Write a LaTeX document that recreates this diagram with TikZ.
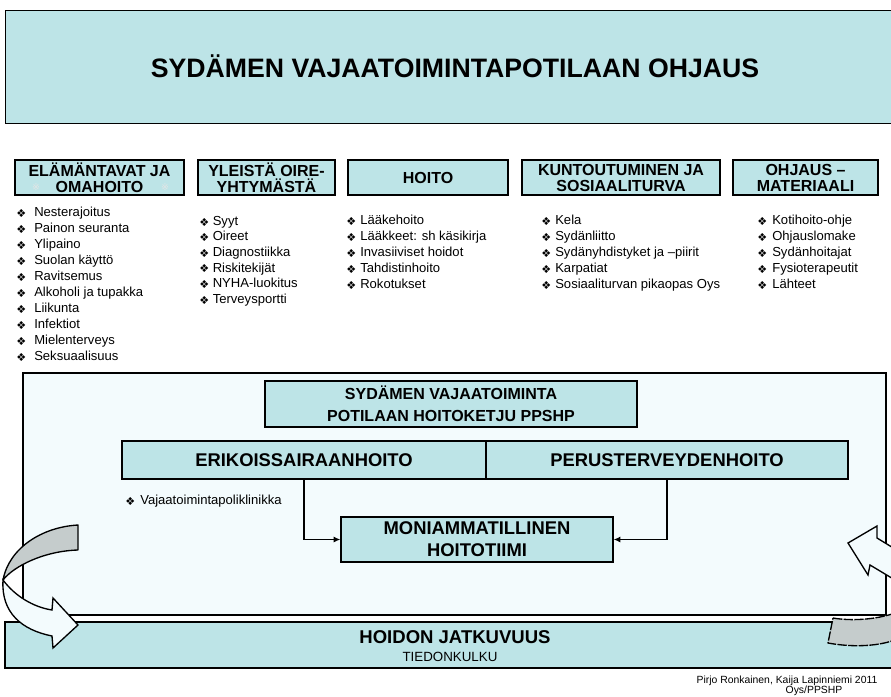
\documentclass[tikz,border=0pt]{standalone}
\usepackage{fontspec}
\setmainfont{Liberation Sans}
\newfontfamily\dejavu{DejaVu Sans}
\usetikzlibrary{arrows.meta,shadows}
\definecolor{tealc}{RGB}{189,228,231}
\definecolor{panelc}{RGB}{243,251,253}
\definecolor{greyc}{RGB}{197,204,204}
\newcommand\bul{{\dejavu\fontsize{8.3}{9}\selectfont ❖}}
\begin{document}
\begin{tikzpicture}[x=0.75pt,y=-0.75pt,
  tealbox/.style={fill=tealc, draw=black, line width=0.9pt, inner sep=0pt, align=center,
     drop shadow={shadow xshift=0.9pt, shadow yshift=-0.9pt, fill=black, opacity=1}},
  hdr/.style={tealbox, line width=1.3pt, minimum height=26.25pt, font=\fontsize{12}{12}\selectfont\bfseries},
  inbox/.style={tealbox, line width=1pt},
  item/.style={anchor=west, inner sep=0pt, font=\fontsize{9.8}{12}\selectfont, text height=7pt, text depth=2pt},
  bulnode/.style={anchor=west, inner sep=0pt},
  conn/.style={line width=0.9pt, -{Latex[length=5pt,width=4.5pt]}},
  backarrow/.style={fill=greyc, draw=black, line width=1pt, line join=round},
  frontarrow/.style={fill=panelc, draw=black, line width=1pt, line join=miter},
]
\useasboundingbox (0,0) rectangle (891,696);
\clip (0,0) rectangle (891,696);
\fill[white] (0,0) rectangle (891,696);

% title
\node[tealbox, line width=0.7pt, minimum width=675pt, minimum height=84.75pt, font=\fontsize{20}{20}\selectfont\bfseries] (title) at (455,66.5) {SYDÄMEN VAJAATOIMINTAPOTILAAN OHJAUS};

% headers
\node[hdr, minimum width=126.75pt] (h1) at (99.5,177.5) {ELÄMÄNTAVAT JA\\OMAHOITO};
\node[inner sep=0pt, text=white!80!gray, font=\dejavu\fontsize{7}{7}\selectfont] (o1) at (36,187) {※};
\node[inner sep=0pt, text=white!80!gray, font=\dejavu\fontsize{7}{7}\selectfont] (o2) at (165,187) {※};
\node[hdr, minimum width=102.75pt] (h2) at (266.5,177.5) {YLEISTÄ OIRE-\\YHTYMÄSTÄ};
\node[hdr, minimum width=120pt] (h3) at (428,177.5) {HOITO};
\node[hdr, minimum width=148.5pt] (h4) at (621,177.5) {KUNTOUTUMINEN JA\\SOSIAALITURVA};
\node[hdr, minimum width=108.75pt] (h5) at (805.5,177.5) {OHJAUS –\\MATERIAALI};

% lists
\foreach \t [count=\i] in {Nesterajoitus,Painon seuranta,Ylipaino,Suolan käyttö,Ravitsemus,Alkoholi ja tupakka,Liikunta,Infektiot,Mielenterveys,Seksuaalisuus}{
  \node[bulnode] (b1-\i) at (16,{213+16*(\i-1)}) {\bul};
  \node[item] (a1-\i) at (34,{213+16*(\i-1)}) {\t};
}
\foreach \t [count=\i] in {Syyt,Oireet,Diagnostiikka,Riskitekijät,NYHA-luokitus,Terveysportti}{
  \node[bulnode] (b2-\i) at (199,{222+15.6*(\i-1)}) {\bul};
  \node[item] (a2-\i) at (212.5,{222+15.6*(\i-1)}) {\t};
}
\foreach \t [count=\i] in {Lääkehoito,Lääkkeet: sh käsikirja,Invasiiviset hoidot,Tahdistinhoito,Rokotukset}{
  \node[bulnode] (b3-\i) at (346,{221+16*(\i-1)}) {\bul};
  \node[item] (a3-\i) at (360,{221+16*(\i-1)}) {\t};
}
\foreach \t [count=\i] in {Kela,Sydänliitto,Sydänyhdistyket ja –piirit,Karpatiat,Sosiaaliturvan pikaopas Oys}{
  \node[bulnode] (b4-\i) at (541,{221+16*(\i-1)}) {\bul};
  \node[item] (a4-\i) at (555,{221+16*(\i-1)}) {\t};
}
\foreach \t [count=\i] in {Kotihoito-ohje,Ohjauslomake,Sydänhoitajat,Fysioterapeutit,Lähteet}{
  \node[bulnode] (b5-\i) at (757,{221+16*(\i-1)}) {\bul};
  \node[item] (a5-\i) at (772,{221+16*(\i-1)}) {\t};
}

% panel
\node[fill=panelc, draw=black, line width=1pt, inner sep=0pt, minimum width=647.25pt, minimum height=181.5pt] (panel) at (454.5,494) {};

\node[inbox, minimum width=279pt, minimum height=34.5pt, font=\fontsize{12}{16.3}\selectfont\bfseries] (chain) at (451,404) {SYDÄMEN VAJAATOIMINTA\\POTILAAN HOITOKETJU PPSHP};
\node[inbox, minimum width=273pt, minimum height=28.5pt, font=\fontsize{13.8}{14}\selectfont\bfseries] (erik) at (304,460) {ERIKOISSAIRAANHOITO};
\node[inbox, minimum width=271.5pt, minimum height=28.5pt, font=\fontsize{13.8}{14}\selectfont\bfseries] (perus) at (667,460) {PERUSTERVEYDENHOITO};
\node[inbox, minimum width=204pt, minimum height=33.75pt, font=\fontsize{13.8}{16.5}\selectfont\bfseries] (moni) at (477,539.5) {MONIAMMATILLINEN\\HOITOTIIMI};

\node[bulnode] (bv) at (125,501) {\bul};
\node[item] (vaja) at (140,501) {Vajaatoimintapoliklinikka};

\draw[conn] (erik.south) |- (moni.west);
\draw[conn] (perus.south) |- (moni.east);

% bottom box
\node[tealbox, line width=1.1pt, minimum width=675pt, minimum height=34.5pt] (hoito) at (455,645) {};
\node[anchor=base, inner sep=0pt, font=\fontsize{13.9}{14}\selectfont\bfseries] (hoitot) at (455,643.5) {HOIDON JATKUVUUS};
\node[anchor=base, inner sep=0pt, font=\fontsize{10}{10}\selectfont] (tied) at (450,661.5) {TIEDONKULKU};

% left curved arrow
\path[backarrow] (78,525) .. controls (42,527) and (9,548) .. (3,580)
   .. controls (14,566) and (44,551) .. (78,550) -- cycle;
\path[frontarrow] (3,580) .. controls (15,596) and (33,607) .. (52,610)
   -- (53,598) -- (78,625) -- (53,648) -- (52,636)
   .. controls (22,630) and (1,613) .. (3,580) -- cycle;

% right curved arrow
\path[backarrow, dash pattern=on 7pt off 1pt] (833,618) .. controls (850,621) and (875,620) .. (895,613)
   -- (895,640) .. controls (875,647) and (850,647) .. (828,643) -- cycle;
\path[frontarrow] (848,543) -- (877,526) -- (877,538) -- (895,549) -- (895,580) -- (870,565) -- (868,575) -- cycle;

% credits
\node[anchor=base, inner sep=0pt, font=\fontsize{7.8}{8}\selectfont] (cred1) at (787,683) {Pirjo Ronkainen, Kaija Lapinniemi 2011};
\node[anchor=base, inner sep=0pt, font=\fontsize{7.8}{8}\selectfont] (cred2) at (814,693) {Oys/PPSHP};
\end{tikzpicture}
\end{document}
